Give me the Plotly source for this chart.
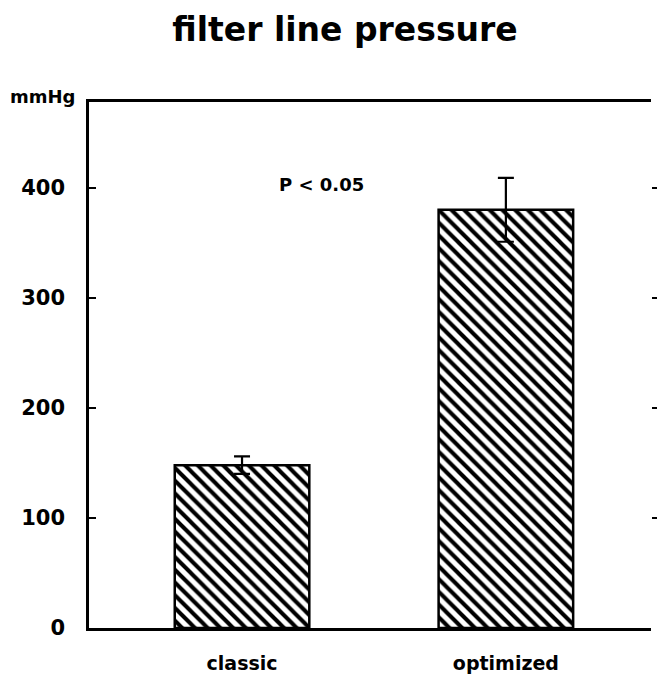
import plotly.graph_objects as go

categories = ["classic", "optimized"]
values = [148, 380]
errors = [8, 29]
y_ticks = [0, 100, 200, 300, 400]

FONT = "DejaVu Sans, Liberation Sans, Arial, sans-serif"

fig = go.Figure()
fig.add_trace(go.Bar(
    x=categories, y=values,
    width=0.51,
    marker=dict(
        color="white",
        line=dict(color="black", width=2.5),
        pattern=dict(shape="\\", fgcolor="black", bgcolor="white", fgopacity=1,
                     size=9, solidity=0.45),
    ),
    error_y=dict(type="data", array=errors, visible=True, color="black", thickness=2.2, width=8),
    showlegend=False,
))
# invisible trace to drive right-side ticks
fig.add_trace(go.Scatter(x=categories, y=values, yaxis="y2", mode="markers",
                         marker=dict(opacity=0), showlegend=False, hoverinfo="skip"))

fig.update_layout(
    width=657, height=675,
    margin=dict(l=89, r=6, t=102, b=47, autoexpand=False),
    paper_bgcolor="white", plot_bgcolor="white",
    font=dict(family=FONT, color="black", size=19, weight="bold"),
    title=dict(text="filter line pressure", x=345 / 657, xanchor="center", y=1 - 29 / 675,
               yanchor="middle",
               font=dict(size=33, family=FONT, weight="bold", color="black")),
    xaxis=dict(
        range=[-0.58, 1.55], showline=True, linecolor="black", linewidth=2.5, mirror=True,
        ticks="", showgrid=False, zeroline=False, ticklabelstandoff=16, automargin=False,
        tickfont=dict(size=19, family=FONT, weight="bold"),
    ),
    yaxis=dict(
        range=[0, 478], tickvals=y_ticks, ticktext=[str(v) for v in y_ticks],
        showline=True, linecolor="black", linewidth=2.5, ticks="inside", ticklen=7,
        tickwidth=2, tickcolor="black", showgrid=False, zeroline=False, automargin=False,
        ticklabelstandoff=17, tickfont=dict(size=21, family=FONT, weight="bold"),
    ),
    yaxis2=dict(
        range=[0, 478], tickvals=y_ticks[1:], overlaying="y", side="right",
        showline=False, ticks="outside", ticklen=6, tickwidth=2, tickcolor="black",
        showticklabels=False, showgrid=False, zeroline=False, automargin=False,
    ),
    annotations=[
        dict(text="mmHg", xref="paper", yref="paper", x=-0.021, y=1.01,
             xanchor="right", yanchor="middle", showarrow=False,
             font=dict(size=18, family=FONT, weight="bold")),
        dict(text="P < 0.05", xref="paper", yref="paper", x=(321.5 - 89) / 562,
             y=(628 - 184) / 526, xanchor="center", yanchor="middle", showarrow=False,
             font=dict(size=18, family=FONT, weight="bold")),
    ],
)

fig.write_html("out.html")
